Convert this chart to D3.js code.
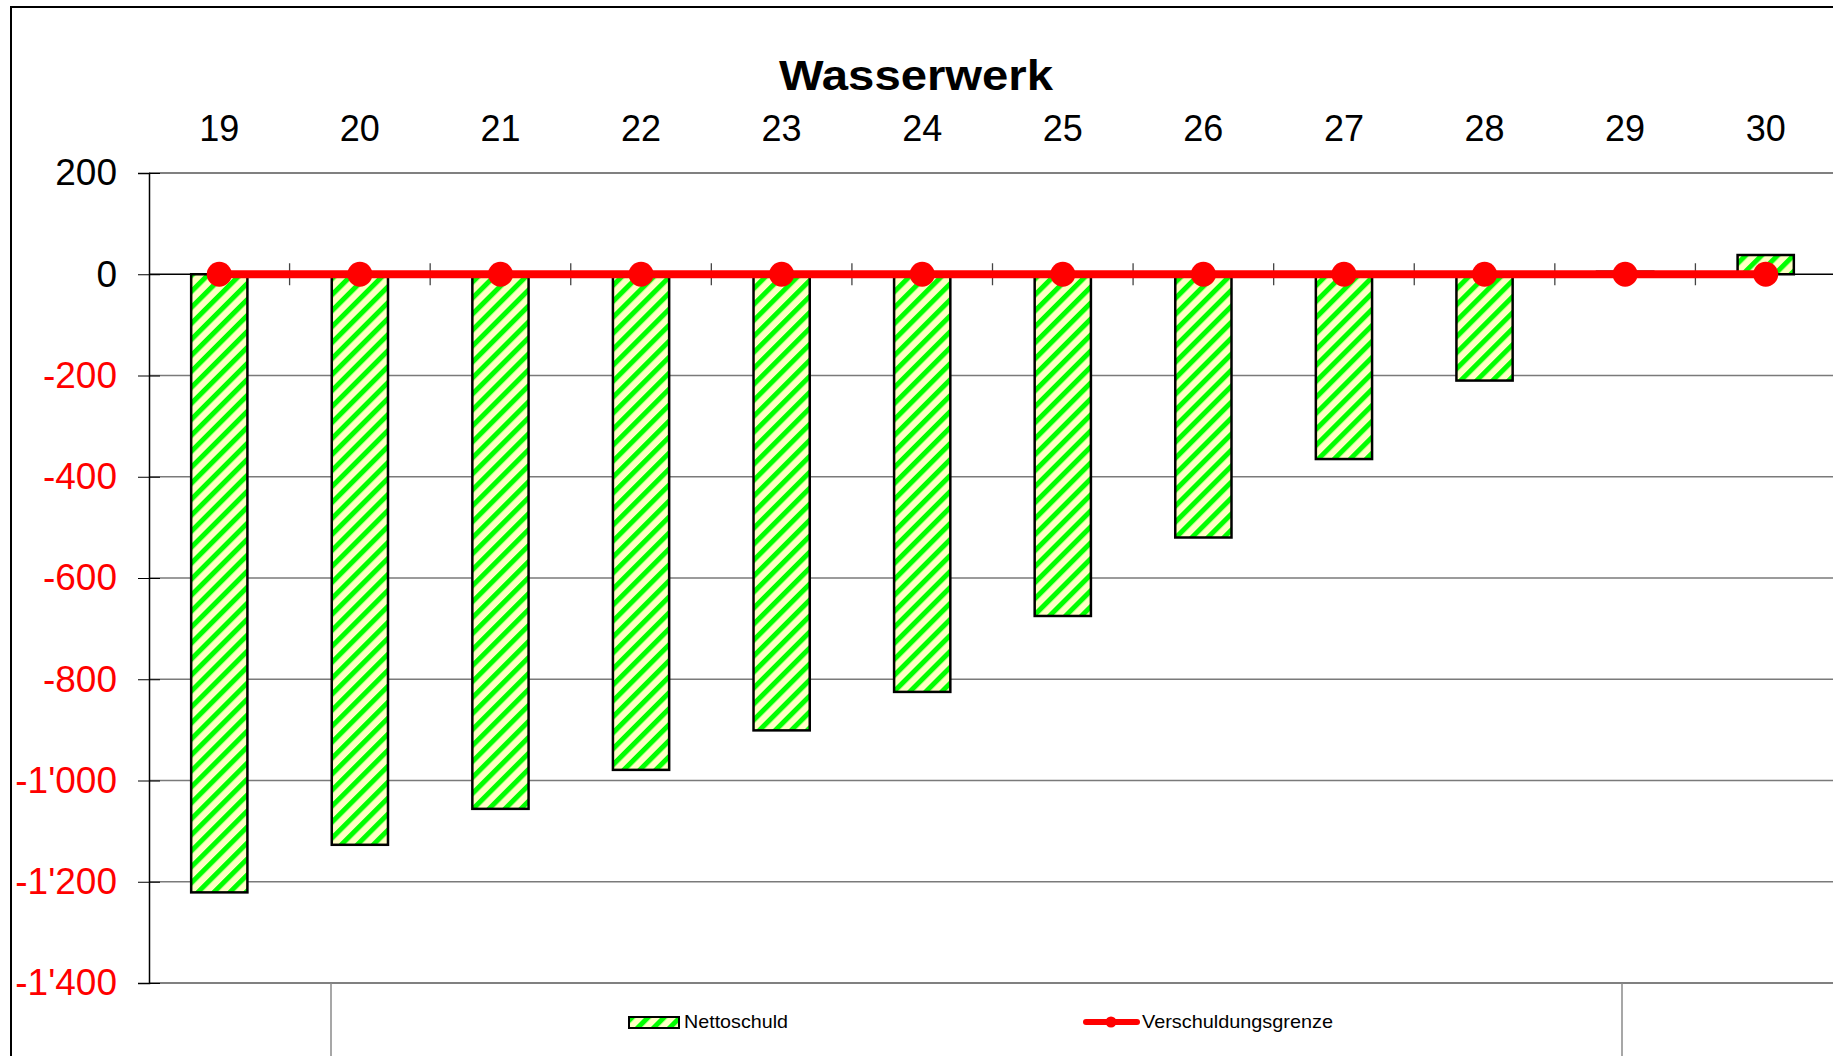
<!DOCTYPE html>
<html>
<head>
<meta charset="utf-8">
<title>Wasserwerk</title>
<script src="https://cdn.jsdelivr.net/npm/d3@7"></script>
<style>
  body { margin: 0; background: #fff; }
  svg { display: block; font-family: 'Liberation Sans', Arial, sans-serif; }
</style>
</head>
<body>
<div id="app"></div>
<script>
  'use strict'

  // chart data
  const years = ['19', '20', '21', '22', '23', '24', '25', '26', '27', '28', '29', '30']
  const nettoschuld = [-1221, -1127, -1056, -979, -901, -825, -675, -520, -365, -210, 5, 38]
  const verschuldungsgrenze = [0, 0, 0, 0, 0, 0, 0, 0, 0, 0, 0, 0]
  const yTicks = [200, 0, -200, -400, -600, -800, -1000, -1200, -1400]

  const width = 1833
  const height = 1056
  const plot = { left: 149, right: 1836, top: 173, bottom: 983 }

  const svg = d3.select('#app')
                .append('svg')
                .attr('width', width)
                .attr('height', height)

  // hatched fill like the excel pattern
  const pat = svg.append('defs')
                 .append('pattern')
                 .attr('id', 'hatch')
                 .attr('patternUnits', 'userSpaceOnUse')
                 .attr('width', 11.3)
                 .attr('height', 11.3)
                 .attr('patternTransform', 'rotate(45)')
  pat.append('rect')
     .attr('width', 11.3)
     .attr('height', 11.3)
     .attr('fill', '#ffffc4')
  pat.append('rect')
     .attr('width', 5)
     .attr('height', 11.3)
     .attr('fill', '#00ff00')

  // outer frame
  svg.append('rect')
     .attr('x', 11)
     .attr('y', 7)
     .attr('width', 1900)
     .attr('height', 1100)
     .attr('fill', 'none')
     .attr('stroke', '#000')
     .attr('stroke-width', 2)

  const x = d3.scaleBand()
              .domain(years)
              .range([plot.left, plot.right])
              .paddingInner(0.6)
              .paddingOuter(0.3)
  const step = x.step()
  const cx = function (d) { return x(d) + x.bandwidth() / 2 }

  const y = d3.scaleLinear()
              .domain([-1400, 200])
              .range([plot.bottom, plot.top])

  const loc = d3.formatLocale({ decimal: '.', thousands: "'", grouping: [3], currency: ['', ''], minus: '-' })
  const fmt = loc.format(',')

  // gridlines
  svg.append('g')
     .selectAll('line')
     .data(yTicks.filter(function (d) { return d < 0 && d > -1400 }))
     .enter()
     .append('line')
     .attr('x1', plot.left)
     .attr('x2', width)
     .attr('y1', function (d) { return y(d) })
     .attr('y2', function (d) { return y(d) })
     .attr('stroke', '#7a7a7a')
     .attr('stroke-width', 1.3)

  // plot border top / bottom
  svg.append('g')
     .selectAll('line')
     .data([200, -1400])
     .enter()
     .append('line')
     .attr('x1', plot.left)
     .attr('x2', width)
     .attr('y1', function (d) { return y(d) })
     .attr('y2', function (d) { return y(d) })
     .attr('stroke', '#808080')
     .attr('stroke-width', 2)

  // y axis
  const yAxis = d3.axisLeft(y)
                  .tickValues(yTicks)
                  .tickSize(11)
                  .tickFormat(fmt)
  const gy = svg.append('g')
                .attr('transform', 'translate(' + plot.left + ',0)')
                .call(yAxis)
  gy.select('.domain').attr('stroke', '#000').attr('stroke-width', 1.5)
  gy.selectAll('.tick line').attr('x2', 11).attr('x1', -11).attr('stroke', '#000')
  gy.selectAll('.tick text')
    .attr('x', -32)
    .style('font-size', '37px')
    .style('font-family', "'Liberation Sans', Arial, sans-serif")
    .attr('fill', function (d) { return d < 0 ? '#ff0000' : '#000' })

  // x axis at zero, labels on top
  svg.append('line')
     .attr('x1', plot.left)
     .attr('x2', width)
     .attr('y1', y(0))
     .attr('y2', y(0))
     .attr('stroke', '#000')
     .attr('stroke-width', 1.5)

  svg.append('g')
     .selectAll('line')
     .data(d3.range(1, years.length))
     .enter()
     .append('line')
     .attr('x1', function (i) { return plot.left + i * step })
     .attr('x2', function (i) { return plot.left + i * step })
     .attr('y1', y(0) - 11)
     .attr('y2', y(0) + 11)
     .attr('stroke', '#444')
     .attr('stroke-width', 1.3)

  svg.append('g')
     .selectAll('text')
     .data(years)
     .enter()
     .append('text')
     .attr('x', cx)
     .attr('y', 141)
     .attr('text-anchor', 'middle')
     .style('font-size', '36px')
     .text(function (d) { return d })

  // bars
  svg.append('g')
     .selectAll('rect')
     .data(nettoschuld)
     .enter()
     .append('rect')
     .attr('x', function (d, i) { return x(years[i]) })
     .attr('y', function (d) { return y(Math.max(0, d)) })
     .attr('width', x.bandwidth())
     .attr('height', function (d) { return Math.abs(y(d) - y(0)) })
     .attr('fill', 'url(#hatch)')
     .attr('stroke', '#000')
     .attr('stroke-width', 2.5)

  // limit line
  const line = d3.line()
                 .x(function (d, i) { return cx(years[i]) })
                 .y(function (d) { return y(d) })
  svg.append('path')
     .datum(verschuldungsgrenze)
     .attr('d', line)
     .attr('fill', 'none')
     .attr('stroke', '#ff0000')
     .attr('stroke-width', 8)

  svg.append('g')
     .selectAll('circle')
     .data(verschuldungsgrenze)
     .enter()
     .append('circle')
     .attr('cx', function (d, i) { return cx(years[i]) })
     .attr('cy', function (d) { return y(d) })
     .attr('r', 12.5)
     .attr('fill', '#ff0000')

  // title
  svg.append('text')
     .attr('x', 916)
     .attr('y', 90)
     .attr('text-anchor', 'middle')
     .attr('textLength', 274)
     .attr('lengthAdjust', 'spacingAndGlyphs')
     .style('font-size', '42px')
     .style('font-weight', 'bold')
     .text('Wasserwerk')

  // legend box
  const lg = svg.append('g')
  lg.selectAll('line.side')
    .data([331, 1622])
    .enter()
    .append('line')
    .attr('x1', function (d) { return d })
    .attr('x2', function (d) { return d })
    .attr('y1', plot.bottom)
    .attr('y2', height)
    .attr('stroke', '#8a8a8a')
    .attr('stroke-width', 1.5)

  lg.append('rect')
    .attr('x', 629)
    .attr('y', 1017)
    .attr('width', 50)
    .attr('height', 11)
    .attr('fill', 'url(#hatch)')
    .attr('stroke', '#000')
    .attr('stroke-width', 2)
  lg.append('text')
    .attr('x', 684)
    .attr('y', 1028)
    .attr('textLength', 104)
    .attr('lengthAdjust', 'spacingAndGlyphs')
    .style('font-size', '19px')
    .text('Nettoschuld')

  lg.append('line')
    .attr('x1', 1086)
    .attr('x2', 1137)
    .attr('y1', 1022)
    .attr('y2', 1022)
    .attr('stroke', '#ff0000')
    .attr('stroke-width', 6)
    .attr('stroke-linecap', 'round')
  lg.append('circle')
    .attr('cx', 1111)
    .attr('cy', 1022)
    .attr('r', 5.5)
    .attr('fill', '#ff0000')
  lg.append('text')
    .attr('x', 1142)
    .attr('y', 1028)
    .attr('textLength', 191)
    .attr('lengthAdjust', 'spacingAndGlyphs')
    .style('font-size', '19px')
    .text('Verschuldungsgrenze')
</script>
</body>
</html>
